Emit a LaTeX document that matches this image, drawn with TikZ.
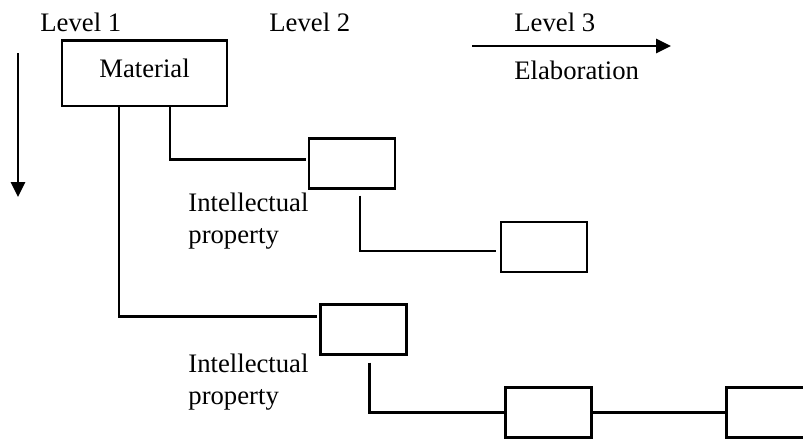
\documentclass[tikz,border=0pt]{standalone}
\usepackage{fontspec}
\setmainfont{Liberation Serif}
\usetikzlibrary{arrows.meta, calc}

\tikzset{
  ibox/.style = {draw, line width = 1.3pt, minimum width = 43pt, minimum height = 25pt, inner sep = 0pt, outer sep = 0pt},
  lbl/.style = {inner sep = 0pt, anchor = base west},
  conn/.style = {line width = 1.3pt},
  dir/.style = {line width = 1.3pt, -{Triangle[length = 7.5pt, width = 7pt]}}
}

\begin{document}
\begin{tikzpicture}[x = 0.5pt, y = -0.5pt, font = \fontsize{13.35pt}{16pt}\selectfont]
    \useasboundingbox (0, 0) rectangle (803, 439);

    \node[lbl] (lvl1) at (40, 31.7) {Level 1};
    \node[lbl] (lvl2) at (269, 31.7) {Level 2};
    \node[lbl] (lvl3) at (514, 31.7) {Level 3};
    \node[lbl] (elab) at (514, 79) {Elaboration};

    \coordinate (vtop) at (18, 53);
    \coordinate (vtip) at (18, 197);
    \coordinate (htail) at (472, 46);
    \coordinate (htip) at (671, 46);
    \draw[dir] (vtop) -- (vtip);
    \draw[dir] (htail) -- (htip);

    \node[ibox, minimum width = 82.5pt, minimum height = 32.7pt, text depth = 5.3pt] (material) at (144.5, 73.3) {Material};
    \node[ibox] (b2) at (351.8, 163.5) {};
    \node[ibox] (b3) at (543.8, 247) {};
    \node[ibox] (b4) at (363.7, 329.7) {};
    \node[ibox] (b5) at (548.7, 412.7) {};
    \node[ibox] (b6) at (769.3, 412.7) {};

    \node[inner sep = 0pt, anchor = north west, align = left] (ip1) at (188, 193) {Intellectual\\property};
    \node[inner sep = 0pt, anchor = north west, align = left] (ip2) at (188, 354) {Intellectual\\property};

    \draw[conn] ($(material.south west) + (57, 0)$) |- ($(b4.north west) + (-4, 12)$);
    \draw[conn] ($(material.south west) + (108, 0)$) |- ($(b2.north west) + (-3, 21)$);
    \draw[conn] ($(b2.south west) + (51, 7)$) |- ($(b3.north west) + (-5, 29)$);
    \draw[conn] ($(b4.south west) + (49, 8)$) |- (b5.west);
    \draw[conn] (b5.east) -- (b6.west);
  \end{tikzpicture}
\end{document}
